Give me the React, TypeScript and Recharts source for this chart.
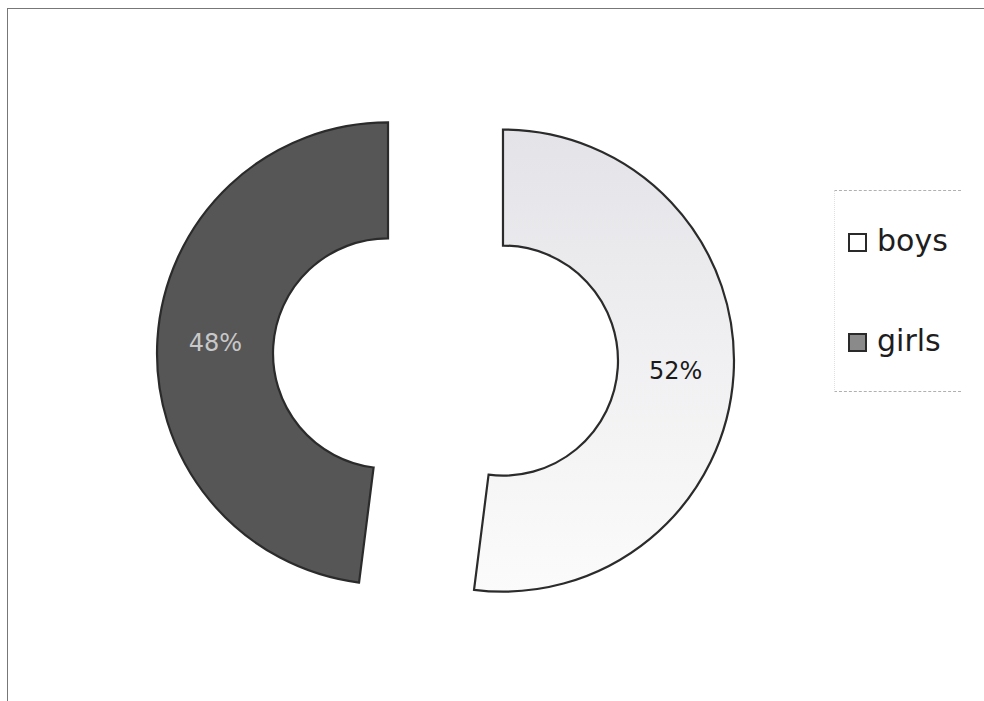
import React from 'react';
import { PieChart, Pie, Cell } from 'recharts';

const categories = ['boys', 'girls'];
const shares = [52, 48];
const sliceColors = ['url(#boysFill)', '#565656'];
const legendSwatches = ['#ffffff', '#8a8a8a'];

const data = categories.map((name, i) => ({ name, value: shares[i] }));

const RADIAN = Math.PI / 180;
const baseX = 445.5;
const baseY = 357;
const explode = 57.6;
const outer = 231;
const inner = 115;

// offset of each slice along its mid angle (clockwise from 12 o'clock)
const total = shares.reduce((a, b) => a + b, 0);
const offsets = shares.map((v, i) => {
    const before = shares.slice(0, i).reduce((a, b) => a + b, 0);
    const mid = ((before + v / 2) / total) * 360 * RADIAN;
    return { dx: explode * Math.sin(mid), dy: -explode * Math.cos(mid) };
});

const makeLabel = (visible: number) => (props: any) => {
    const { cx, cy, midAngle, innerRadius, outerRadius, percent, index } = props;
    if (index !== visible) return null;
    const r = (innerRadius + outerRadius) / 2;
    const x = cx + r * Math.cos(-midAngle * RADIAN);
    const y = cy + r * Math.sin(-midAngle * RADIAN);
    return (
        <text
            x={x}
            y={y}
            textAnchor="middle"
            dominantBaseline="central"
            fontFamily="DejaVu Sans, Verdana, sans-serif"
            fontSize={24}
            fill={index === 0 ? '#1a1a1a' : '#c8c8c8'}
        >
            {`${Math.round(percent * 100)}%`}
        </text>
    );
};

const App: React.FC = () => {
    return (
        <div style={{ position: 'absolute', left: 0, top: 0, width: 984, height: 701, background: '#fff', overflow: 'hidden' }}>
            <div
                style={{
                    position: 'absolute',
                    left: 7,
                    top: 8,
                    width: 1000,
                    height: 720,
                    borderLeft: '1.5px solid #777',
                    borderTop: '1.5px solid #777',
                }}
            />
            <div style={{ position: 'absolute', left: 0, top: 0 }}>
                <PieChart width={984} height={701} margin={{ top: 0, right: 0, bottom: 0, left: 0 }}>
                    <defs>
                        <linearGradient id="boysFill" x1="0" y1="0" x2="0" y2="1">
                            <stop offset="0%" stopColor="#e3e3e8" />
                            <stop offset="45%" stopColor="#efeff1" />
                            <stop offset="100%" stopColor="#fbfbfb" />
                        </linearGradient>
                    </defs>
                    {categories.map((_, k) => (
                        <Pie
                            key={k}
                            data={data}
                            dataKey="value"
                            nameKey="name"
                            cx={baseX + offsets[k].dx}
                            cy={baseY + offsets[k].dy}
                            innerRadius={inner}
                            outerRadius={outer}
                            startAngle={90}
                            endAngle={-270}
                            labelLine={false}
                            label={makeLabel(k)}
                            isAnimationActive={false}
                        >
                            {data.map((d, i) => (
                                <Cell
                                    key={d.name}
                                    fill={i === k ? sliceColors[i] : 'none'}
                                    stroke={i === k ? '#2b2b2b' : 'none'}
                                    strokeWidth={2.2}
                                />
                            ))}
                        </Pie>
                    ))}
                </PieChart>
            </div>
            <div
                style={{
                    position: 'absolute',
                    left: 834,
                    top: 190,
                    width: 126,
                    height: 200,
                    borderTop: '1px dashed #b0b0b0',
                    borderBottom: '1px dashed #b0b0b0',
                    borderLeft: '1px dotted #e0e0e0',
                    fontFamily: 'DejaVu Sans, Verdana, sans-serif',
                    fontSize: 30,
                    color: '#1e1e1e',
                }}
            >
                {categories.map((name, i) => (
                    <div
                        key={name}
                        style={{ position: 'absolute', left: 13, top: 27 + i * 100, display: 'flex', alignItems: 'center', height: 44 }}
                    >
                        <span
                            style={{
                                display: 'inline-block',
                                width: 15,
                                height: 15,
                                border: '2.5px solid #2a2a2a',
                                background: legendSwatches[i],
                                marginRight: 10,
                                marginTop: 4,
                            }}
                        />
                        <span>{name}</span>
                    </div>
                ))}
            </div>
        </div>
    );
};

export default App;
